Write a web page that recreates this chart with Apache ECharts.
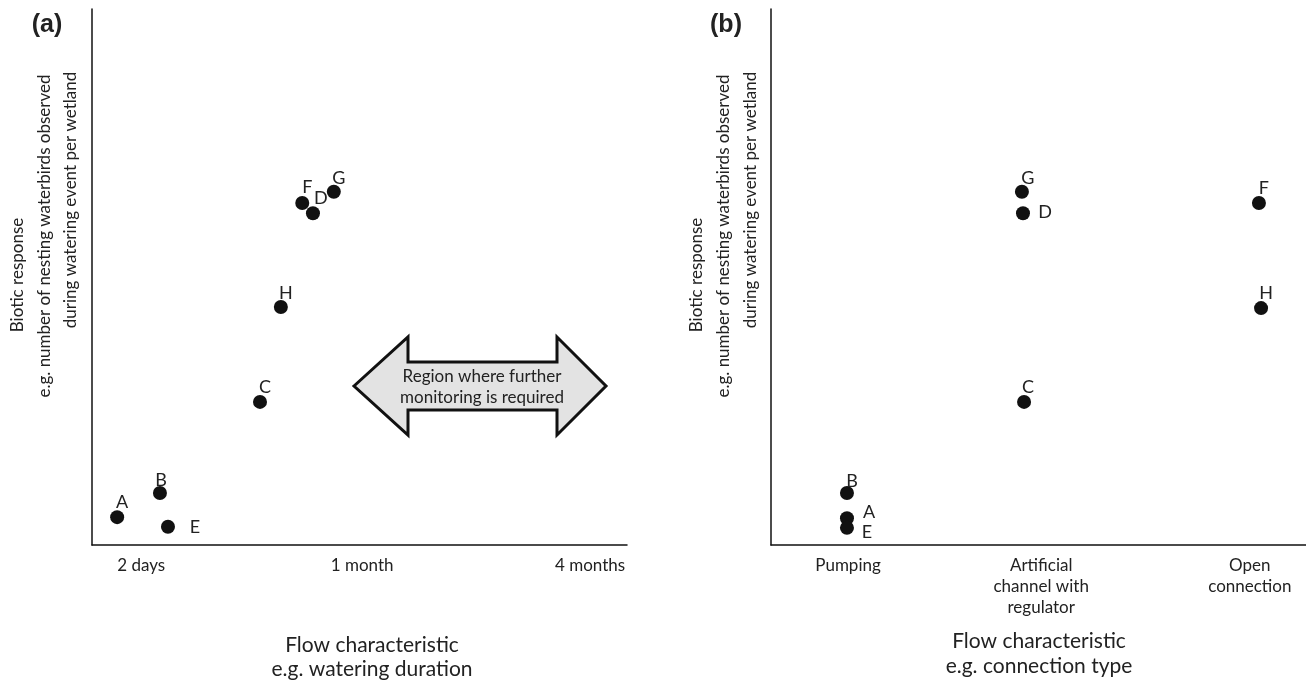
<!DOCTYPE html>
<html><head><meta charset="utf-8">
<script src="https://cdn.jsdelivr.net/npm/echarts@6/dist/echarts.min.js"></script>
<style>html,body{margin:0;padding:0;background:#fff}#c{width:1306px;height:682px}</style>
</head><body><div id="c"></div>
<script>
// ---- data ----
const namesA = ['A','B','E','C','H','F','D','G'];
const xA = [4.7, 12.7, 14.2, 31.4, 35.3, 39.3, 41.3, 45.2];
const yA = [5.2, 9.7, 3.4, 26.7, 44.4, 63.8, 61.9, 65.9];
const tickPosA = [9.2, 50.5, 93.1];
const tickLabelsA = ['2 days', '1 month', '4 months'];

const namesB = ['B','A','E','G','D','C','F','H'];
const xB = [14.2, 14.2, 14.2, 46.9, 47.1, 47.3, 91.2, 91.6];
const yB = [9.7, 5.0, 3.2, 65.9, 61.9, 26.7, 63.8, 44.2];
const tickPosB = [14.4, 50.5, 89.5];
const tickLabelsB = ['Pumping', 'Artificial\nchannel with\nregulator', 'Open\nconnection'];

const yTitleLines = ['Biotic response', 'e.g. number of nesting waterbirds observed', 'during watering event per wetland'];
const xTitleA = ['Flow characteristic', 'e.g. watering duration'];
const xTitleB = ['Flow characteristic', 'e.g. connection type'];
const arrowText = 'Region where further\nmonitoring is required';

// ---- styles (label offsets in px) ----
const offA = [[5,-15],[1,-13],[27,0],[5,-15],[5,-14],[5,-16],[8,-15],[5,-14]];
const offB = [[5,-12],[22,-6],[20,4],[6,-14],[22,-1],[4,-15],[5,-15],[5,-15]];
const FONT = 'Lato, "Open Sans", sans-serif';
const TXT = '#222';

function pts(names, xs, ys, offs) {
  return names.map((n, i) => ({
    name: n, value: [xs[i], ys[i]],
    label: { offset: offs[i] }
  }));
}
function xAxisCfg(idx, pos, labels) {
  return {
    type: 'value', gridIndex: idx, min: 0, max: 100,
    splitLine: { show: false }, axisTick: { show: false },
    axisLine: { show: true, onZero: false, lineStyle: { color: '#111', width: 1.5 } },
    axisLabel: {
      show: true, customValues: pos, margin: 10,
      color: TXT, fontFamily: FONT, fontSize: 17, lineHeight: 21, verticalAlign: 'top',
      formatter: v => { const k = pos.findIndex(p => Math.abs(p - v) < 1e-6); return k >= 0 ? labels[k] : ''; }
    }
  };
}
function yAxisCfg(idx) {
  return {
    type: 'value', gridIndex: idx, min: 0, max: 100,
    splitLine: { show: false }, axisTick: { show: false }, axisLabel: { show: false },
    axisLine: { show: true, onZero: false, lineStyle: { color: '#111', width: 1.5 } }
  };
}
function scatter(idx, data) {
  return {
    type: 'scatter', xAxisIndex: idx, yAxisIndex: idx, data: data,
    symbolSize: 14, itemStyle: { color: '#111', opacity: 1 },
    label: { show: true, position: 'inside', formatter: p => p.name, color: TXT, fontFamily: FONT, fontSize: 18 },
    emphasis: { disabled: true }, animation: false
  };
}
function vText(x, y, t) {
  return { type: 'text', x: x, y: y, rotation: Math.PI / 2,
    style: { text: t, x: 0, y: 0, align: 'center', verticalAlign: 'middle', fill: TXT, font: '17px ' + FONT } };
}
function hText(x, y, t, font) {
  return { type: 'text', x: x, y: y,
    style: { text: t, x: 0, y: 0, align: 'center', verticalAlign: 'middle', fill: TXT, font: font || ('21px ' + FONT) } };
}

const yTitleX_A = [18, 45, 71], yTitleX_B = [697, 724, 751];
const yTitleY = [275, 236, 200];
const graphics = [];
[0, 1].forEach(p => {
  const xs = p ? yTitleX_B : yTitleX_A;
  yTitleLines.forEach((t, i) => graphics.push(vText(xs[i], yTitleY[i], t)));
});
graphics.push(hText(372, 645, xTitleA[0]), hText(372, 669, xTitleA[1]));
graphics.push(hText(1039, 641, xTitleB[0]), hText(1039, 666, xTitleB[1]));
graphics.push(hText(47, 25, '(a)', 'bold 25px "Liberation Sans", Arial, sans-serif'));
graphics.push(hText(726, 25, '(b)', 'bold 25px "Liberation Sans", Arial, sans-serif'));
// double arrow annotation
graphics.push({
  type: 'polygon',
  shape: { points: [[354,386],[408,337],[408,362],[557,362],[557,337],[606,386],[557,435],[557,410],[408,410],[408,435]] },
  style: { fill: '#e3e3e3', stroke: '#111', lineWidth: 3, lineJoin: 'miter' }
});
graphics.push({ type: 'text', x: 482, y: 387,
  style: { text: arrowText, align: 'center', verticalAlign: 'middle', fill: TXT, font: '17px ' + FONT, lineHeight: 21 } });

const chart = echarts.init(document.getElementById('c'), null, { renderer: 'canvas' });
chart.setOption({
  animation: false,
  grid: [
    { left: 92, right: 679, top: 9, bottom: 137 },
    { left: 771, right: 0, top: 9, bottom: 137 }
  ],
  xAxis: [xAxisCfg(0, tickPosA, tickLabelsA), xAxisCfg(1, tickPosB, tickLabelsB)],
  yAxis: [yAxisCfg(0), yAxisCfg(1)],
  series: [scatter(0, pts(namesA, xA, yA, offA)), scatter(1, pts(namesB, xB, yB, offB))],
  graphic: graphics
});
</script></body></html>
